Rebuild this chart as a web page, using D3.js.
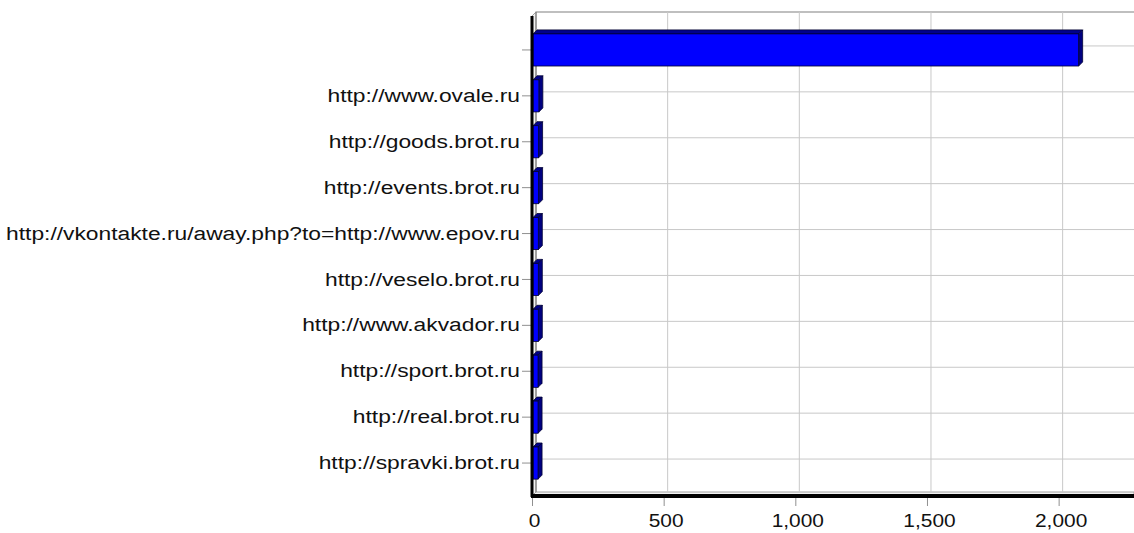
<!DOCTYPE html>
<html>
<head>
<meta charset="utf-8">
<script src="https://cdn.jsdelivr.net/npm/d3@7"></script>
<style>
body { margin: 0; background: #fff; }
svg { display: block; font-family: "Liberation Sans", Arial, sans-serif; }
</style>
</head>
<body>
<svg id="chart" width="1134" height="533"></svg>
<script>
// referrer sites and visits
var sites = ["", "http://www.ovale.ru", "http://goods.brot.ru", "http://events.brot.ru",
    "http://vkontakte.ru/away.php?to=http://www.epov.ru", "http://veselo.brot.ru",
    "http://www.akvador.ru", "http://sport.brot.ru", "http://real.brot.ru", "http://spravki.brot.ru"];
var visits = [2076, 26, 25, 25, 24, 24, 24, 23, 23, 23];
var xTicks = [0, 500, 1000, 1500, 2000];

var W = 1134, depth = 4;
var svg = d3.select("#chart");

var x = d3.scaleLinear().domain([0, 2290]).range([532, 1135]);
var y = d3.scaleBand().domain(sites).range([27, 486]).paddingInner(0.3).paddingOuter(0.15);

var plotTop = 16, plotBottom = 496, x0 = x(0);

// side wall and floor
svg.append("polygon")
    .attr("points", [[x0, plotTop], [x0 + depth, plotTop - depth], [x0 + depth, plotBottom - depth], [x0, plotBottom]].join(" "))
    .attr("fill", "#f2f2f2").attr("stroke", "#a0a0a0").attr("stroke-width", 1);
svg.append("polygon")
    .attr("points", [[x0, plotBottom], [x0 + depth, plotBottom - depth], [W, plotBottom - depth], [W, plotBottom]].join(" "))
    .attr("fill", "#f2f2f2").attr("stroke", "#a0a0a0").attr("stroke-width", 1);

// back wall border
svg.append("path")
    .attr("d", "M" + (x0 + depth) + "," + (plotBottom - depth) + "V" + (plotTop - depth) + "H" + W)
    .attr("fill", "none").attr("stroke", "#808080").attr("stroke-width", 1.2);

// grid
svg.append("g").selectAll("line").data(xTicks.slice(1)).enter().append("line")
    .attr("x1", d => x(d) + depth).attr("x2", d => x(d) + depth)
    .attr("y1", plotTop - depth).attr("y2", plotBottom - depth)
    .attr("stroke", "#c8c8c8");
svg.append("g").selectAll("line").data(sites).enter().append("line")
    .attr("x1", x0 + depth).attr("x2", W)
    .attr("y1", d => y(d) + y.bandwidth() / 2 - depth)
    .attr("y2", d => y(d) + y.bandwidth() / 2 - depth)
    .attr("stroke", "#c8c8c8");

// bars
var bars = svg.append("g").selectAll("g").data(sites).enter().append("g");
bars.each(function(d, i) {
    var g = d3.select(this);
    var xa = x0 + 1, xb = x(visits[i]), ya = y(d), yb = y(d) + y.bandwidth();
    g.append("polygon")
        .attr("points", [[xa, ya], [xa + depth, ya - depth], [xb + depth, ya - depth], [xb, ya]].join(" "))
        .attr("fill", "#00008c").attr("stroke", "#000033").attr("stroke-width", 0.8);
    g.append("polygon")
        .attr("points", [[xb, ya], [xb + depth, ya - depth], [xb + depth, yb - depth], [xb, yb]].join(" "))
        .attr("fill", "#000080").attr("stroke", "#000033").attr("stroke-width", 0.8);
    g.append("rect")
        .attr("x", xa).attr("y", ya).attr("width", xb - xa).attr("height", yb - ya)
        .attr("fill", "#0000ff").attr("stroke", "#000033").attr("stroke-width", 0.8);
});

// axes
var yAxis = d3.axisLeft(y).tickSizeOuter(0).tickSize(9).tickPadding(3);
var gy = svg.append("g").attr("transform", "translate(" + (x0 - 1) + ",0)").call(yAxis);
gy.select(".domain").remove();
gy.selectAll(".tick line").attr("stroke", "#909090");
gy.selectAll("text").attr("font-size", 19).attr("fill", "#111")
    .attr("x", null).attr("transform", "translate(-11,0) scale(1.2,1)");

var xAxis = d3.axisBottom(x).tickValues(xTicks).tickFormat(d3.format(",")).tickSize(10).tickPadding(8);
var gx = svg.append("g").attr("transform", "translate(0," + plotBottom + ")").call(xAxis);
gx.select(".domain").remove();
gx.selectAll(".tick line").attr("stroke", "#909090");
gx.selectAll("text").attr("font-size", 19).attr("fill", "#111")
    .attr("transform", "translate(2,0) scale(1.1,1)");

// thick front axis lines
svg.append("line").attr("x1", x0).attr("x2", x0).attr("y1", plotTop).attr("y2", plotBottom + 1)
    .attr("stroke", "#000").attr("stroke-width", 3);
svg.append("line").attr("x1", x0 - 1).attr("x2", W).attr("y1", plotBottom).attr("y2", plotBottom)
    .attr("stroke", "#000").attr("stroke-width", 4);
</script>
</body>
</html>
